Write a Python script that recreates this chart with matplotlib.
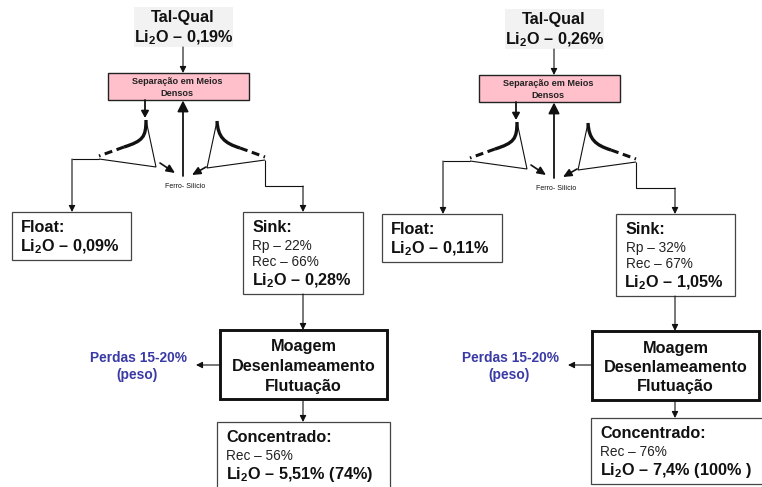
import matplotlib
matplotlib.use("Agg")
import matplotlib.pyplot as plt
from matplotlib.patches import Rectangle, PathPatch
from matplotlib.path import Path

plt.rcParams['font.family'] = ['Liberation Sans', 'DejaVu Sans']
plt.rcParams['mathtext.fontset'] = 'custom'
plt.rcParams['mathtext.rm'] = 'Liberation Sans'
plt.rcParams['mathtext.bf'] = 'Liberation Sans:bold'

LI2O = r"Li$_{\mathbf{2}}$O"
# values
feed_grade = ["0,19%", "0,26%"]
float_grade = ["0,09%", "0,11%"]
sink_rp = ["Rp – 22%", "Rp – 32%"]
sink_rec = ["Rec – 66%", "Rec – 67%"]
sink_grade = ["0,28%", "1,05%"]
conc_rec = ["Rec – 56%", "Rec – 76%"]
conc_grade = ["5,51% (74%)", "7,4% (100% )"]

# per-panel layout (pixels)
panel_dx = [0, 371]
panel_dy = [0, 2]
float_box = [(12, 212, 131, 260), (382, 214, 502, 262)]
sink_box = [(243, 212, 363, 294), (616, 214, 735, 296)]
mill_box = [(220, 330, 387, 399), (592, 331, 759, 400)]
conc_box = [(217, 422, 390, 495), (591, 418, 770, 484)]
float_x = [72, 443]
sink_x = [303, 675]

fig = plt.figure(figsize=(7.62, 4.87), dpi=100)
ax = fig.add_axes([0, 0, 1, 1])
ax.set_xlim(0, 762)
ax.set_ylim(487, 0)
ax.axis('off')
INK = '#111111'


def arrow(p0, p1, lw=0.8, hl=3.8, hw=1.9):
    ax.annotate('', xy=p1, xytext=p0,
                arrowprops=dict(arrowstyle=f'-|>,head_length={hl/10},head_width={hw/10}',
                                mutation_scale=10, lw=lw, color=INK,
                                shrinkA=0, shrinkB=0))


def poly(pts, lw=0.8, **kw):
    ax.plot(*zip(*pts), color=INK, lw=lw, solid_capstyle='butt',
            solid_joinstyle='miter', **kw)


def box(b, lw=0.9, ec='#444444', fc='white', z=1):
    ax.add_patch(Rectangle((b[0], b[1]), b[2]-b[0], b[3]-b[1], fc=fc, ec=ec, lw=lw, zorder=z))


def curve(verts, codes, **kw):
    ax.add_patch(PathPatch(Path(verts, codes), fc='none', ec=INK, **kw))


C = [Path.MOVETO, Path.CURVE4, Path.CURVE4, Path.CURVE4]
BIG, MID, SMALL = 11.7, 11.7, 9.8
BLUE = '#3a3aa6'

for i in range(2):
    dx, dy = panel_dx[i], panel_dy[i]
    X = lambda v: v + dx
    Y = lambda v: v + dy

    # feed
    ax.add_patch(Rectangle((X(134), Y(7)), 99, 40, fc='#f2f2f2', ec='none'))
    ax.text(X(183), Y(17.5), "Tal-Qual", ha='center', va='center', fontsize=BIG, weight='bold', color=INK)
    ax.text(X(184), Y(38), f"{LI2O} – {feed_grade[i]}", ha='center', va='center', fontsize=BIG, weight='bold', color=INK)
    arrow((X(183), Y(47)), (X(183), Y(73)))

    # heavy media box
    box((X(108), Y(73), X(249), Y(100)), lw=1.0, ec='#222222', fc='#ffc0cb')
    ax.text(X(177), Y(81.5), "Separação em Meios", ha='center', va='center', fontsize=6.6, weight='bold', color='#222222')
    ax.text(X(177), Y(93), "Densos", ha='center', va='center', fontsize=6.6, weight='bold', color='#222222')

    # left cyclone
    arrow((X(145), Y(100)), (X(145), Y(118)), lw=1.3, hl=4.0, hw=2.2)
    curve([(X(146), Y(120)), (X(146), Y(137)), (X(143), Y(141)), (X(124), Y(147))], C, lw=2.4)
    poly([(X(124), Y(147)), (X(99), Y(156))], lw=2.2, linestyle=(0, (2.6, 1.5)))
    poly([(X(146), Y(120)), (X(156), Y(167)), (X(99), Y(159))])
    poly([(X(99), Y(159)), (float_x[i], Y(159))])
    arrow((float_x[i], Y(159)), (float_x[i], float_box[i][1]))
    arrow((X(160), Y(163)), (X(175), Y(173)), lw=1.2, hl=5.0, hw=2.3)

    # right cyclone
    curve([(X(217), Y(121)), (X(218), Y(137)), (X(224), Y(143)), (X(240), Y(148))], C, lw=2.4)
    poly([(X(240), Y(148)), (X(265), Y(157))], lw=2.2, linestyle=(0, (2.6, 1.5)))
    poly([(X(217), Y(121)), (X(207), Y(168)), (X(265), Y(160))])
    poly([(X(265), Y(160)), (X(265), Y(186)), (sink_x[i], Y(186))])
    arrow((sink_x[i], Y(186)), (sink_x[i], sink_box[i][1]))
    arrow((X(206), Y(167)), (X(192), Y(175)), lw=1.2, hl=5.0, hw=2.3)

    # ferro-silicon return
    arrow((X(183), Y(176)), (X(183), Y(100.5)), lw=1.3, hl=6.5, hw=3.3)
    ax.text(X(185.5), Y(186), "Ferro- Silício", ha='center', va='center', fontsize=5.0, color=INK)

    # float
    b = float_box[i]
    box(b)
    ax.text(b[0]+9, b[1]+16, "Float:", va='center', fontsize=MID, weight='bold', color=INK)
    ax.text(b[0]+8.5, b[1]+35, f"{LI2O} – {float_grade[i]}", va='center', fontsize=MID, weight='bold', color=INK)

    # sink
    b = sink_box[i]
    box(b)
    ax.text(b[0]+9.5, b[1]+16, "Sink:", va='center', fontsize=MID, weight='bold', color=INK)
    ax.text(b[0]+9.5, b[1]+34, sink_rp[i], va='center', fontsize=SMALL, color='#222222')
    ax.text(b[0]+9.5, b[1]+50.5, sink_rec[i], va='center', fontsize=SMALL, color='#222222')
    ax.text(b[0]+8.5, b[1]+69, f"{LI2O} – {sink_grade[i]}", va='center', fontsize=MID, weight='bold', color=INK)

    # mill
    m = mill_box[i]
    arrow((sink_x[i], b[3]), (sink_x[i], m[1]))
    box(m, lw=2.1, ec='#111111')
    mx = (m[0]+m[2])/2
    ax.text(mx, m[1]+17, "Moagem", ha='center', va='center', fontsize=MID, weight='bold', color=INK)
    ax.text(mx, m[1]+36.5, "Desenlameamento", ha='center', va='center', fontsize=MID, weight='bold', color=INK)
    ax.text(mx, m[1]+56, "Flutuação", ha='center', va='center', fontsize=MID, weight='bold', color=INK)

    # losses
    arrow((m[0], 365), (m[0]-24, 365))
    lx = m[0]-82
    ax.text(lx, 357.5, "Perdas 15-20%", ha='center', va='center', fontsize=9.9, weight='bold', color=BLUE)
    ax.text(lx-1, 374.5, "(peso)", ha='center', va='center', fontsize=9.9, weight='bold', color=BLUE)

    # concentrate
    c = conc_box[i]
    arrow((sink_x[i], m[3]), (sink_x[i], c[1]))
    box(c)
    ax.text(c[0]+9, c[1]+15, "Concentrado:", va='center', fontsize=MID, weight='bold', color=INK)
    ax.text(c[0]+9.5, c[1]+33.5, conc_rec[i], va='center', fontsize=SMALL, color='#222222')
    ax.text(c[0]+8.5, c[1]+52, f"{LI2O} – {conc_grade[i]}", va='center', fontsize=MID, weight='bold', color=INK)

fig.savefig("out.png", dpi=100, facecolor='white')
